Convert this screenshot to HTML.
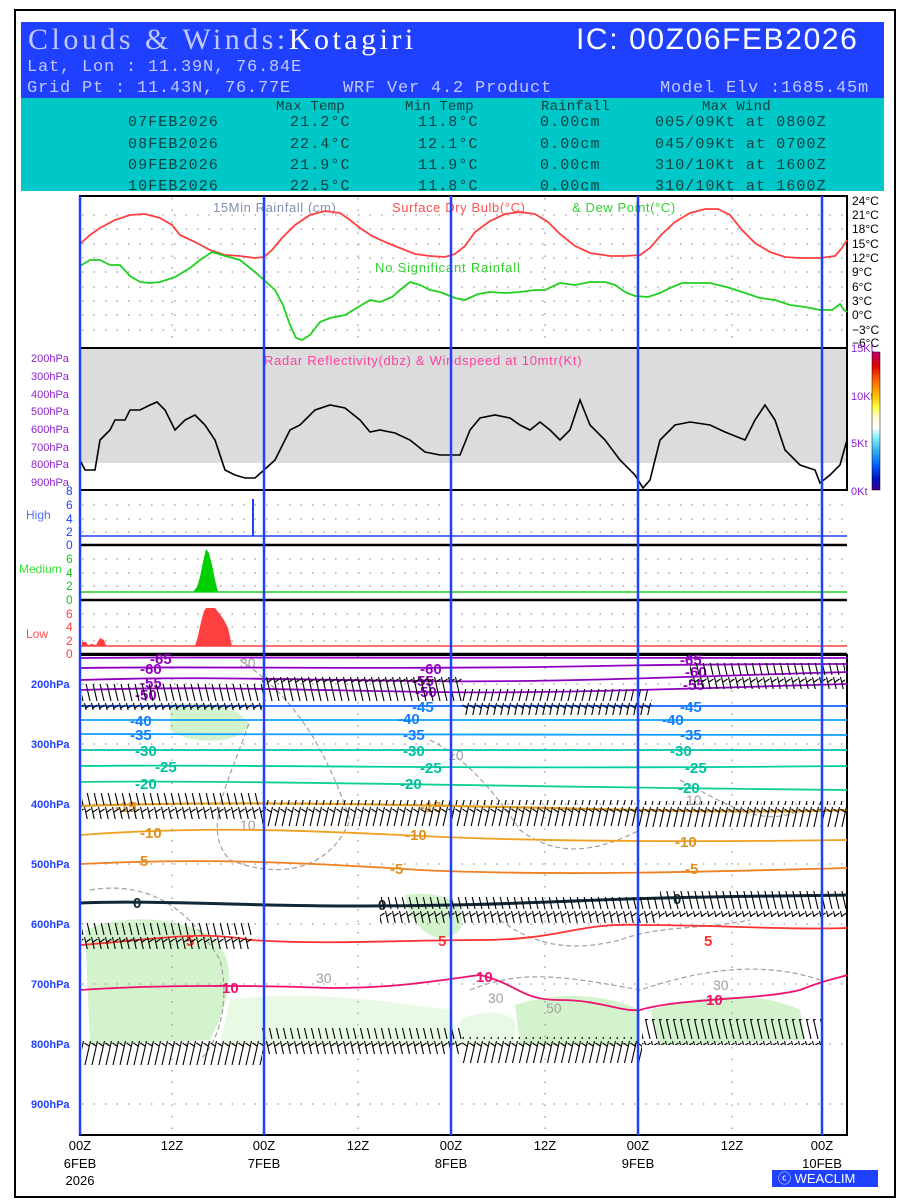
<!DOCTYPE html>
<html><head><meta charset="utf-8"><style>
body{margin:0;background:#fff}
svg{display:block;font-family:"Liberation Sans",sans-serif}
.m{font-family:"Liberation Mono",monospace;white-space:pre}
</style></head><body>
<svg width="900" height="1200" viewBox="0 0 900 1200" xmlns="http://www.w3.org/2000/svg">
<defs>
<pattern id="barb" x="0" y="0" width="7" height="26" patternUnits="userSpaceOnUse">
<path d="M0.5 1 L6 25 M2 6 L6.5 3" stroke="#000" stroke-width="1.1" fill="none"/>
</pattern>
<pattern id="barb2" x="0" y="0" width="7" height="26" patternUnits="userSpaceOnUse">
<path d="M6.5 1 L1 25 M5 6 L0.5 3" stroke="#000" stroke-width="1.1" fill="none"/>
</pattern>
<linearGradient id="cb" x1="0" y1="0" x2="0" y2="1">
<stop offset="0" stop-color="#c0006a"/><stop offset="0.1" stop-color="#e00000"/><stop offset="0.22" stop-color="#ff7000"/><stop offset="0.32" stop-color="#ffc000"/><stop offset="0.4" stop-color="#ffff40"/><stop offset="0.47" stop-color="#fff8d0"/><stop offset="0.55" stop-color="#ffffff"/><stop offset="0.62" stop-color="#80f0ff"/><stop offset="0.72" stop-color="#30b0f0"/><stop offset="0.82" stop-color="#0060ff"/><stop offset="0.92" stop-color="#0010c0"/><stop offset="1" stop-color="#400090"/>
</linearGradient>
</defs>
<rect x="15" y="10" width="880" height="1187" fill="#fff" stroke="#000" stroke-width="2"/>
<!-- header -->
<rect x="21" y="22" width="863" height="76" fill="#2040ff"/>
<text x="28" y="49" font-family="Liberation Serif,serif" font-size="30" letter-spacing="3.5" fill="#c0c8ff">Clouds &amp; Winds:<tspan fill="#fff">Kotagiri</tspan></text>
<text x="576" y="49" font-size="30" letter-spacing="1.6" fill="#fff">IC: 00Z06FEB2026</text>
<g class="m" font-size="17" letter-spacing="0.8" fill="#c0c8ff">
<text x="27" y="71">Lat, Lon : 11.39N, 76.84E</text>
<text x="27" y="92">Grid Pt  : 11.43N, 76.77E</text>
<text x="343" y="92">WRF Ver 4.2 Product</text>
<text x="660" y="92">Model Elv :1685.45m</text>
</g>
<rect x="21" y="98" width="863" height="93" fill="#00c8c8"/>
<g class="m" font-size="15" fill="#104040" letter-spacing="1.1">
<text x="276" y="110" font-size="14" letter-spacing="0.2">Max Temp</text><text x="405" y="110" font-size="14" letter-spacing="0.2">Min Temp</text><text x="541" y="110" font-size="14" letter-spacing="0.2">Rainfall</text><text x="702" y="110" font-size="14" letter-spacing="0.2">Max Wind</text>
<text x="128" y="126">07FEB2026</text><text x="290" y="126">21.2°C</text><text x="418" y="126">11.8°C</text><text x="540" y="126">0.00cm</text><text x="655" y="126">005/09Kt at 0800Z</text>
<text x="128" y="148">08FEB2026</text><text x="290" y="148">22.4°C</text><text x="418" y="148">12.1°C</text><text x="540" y="148">0.00cm</text><text x="655" y="148">045/09Kt at 0700Z</text>
<text x="128" y="169">09FEB2026</text><text x="290" y="169">21.9°C</text><text x="418" y="169">11.9°C</text><text x="540" y="169">0.00cm</text><text x="655" y="169">310/10Kt at 1600Z</text>
<text x="128" y="190">10FEB2026</text><text x="290" y="190">22.5°C</text><text x="418" y="190">11.8°C</text><text x="540" y="190">0.00cm</text><text x="655" y="190">310/10Kt at 1600Z</text>
</g>
<!-- temperature panel -->
<rect x="80" y="196" width="767" height="152" fill="none" stroke="#000" stroke-width="2"/>
<g stroke="#aaa" stroke-width="1.5" stroke-dasharray="1.5 10">
<line x1="82" y1="215" x2="846" y2="215"/><line x1="82" y1="229" x2="846" y2="229"/><line x1="82" y1="244" x2="846" y2="244"/><line x1="82" y1="258" x2="846" y2="258"/><line x1="82" y1="272" x2="846" y2="272"/><line x1="82" y1="287" x2="846" y2="287"/><line x1="82" y1="301" x2="846" y2="301"/><line x1="82" y1="315" x2="846" y2="315"/><line x1="82" y1="330" x2="846" y2="330"/>
</g>
<g font-size="12" fill="#000">
<text x="852" y="205">24°C</text><text x="852" y="219">21°C</text><text x="852" y="233">18°C</text><text x="852" y="248">15°C</text><text x="852" y="262">12°C</text><text x="852" y="276">9°C</text><text x="852" y="291">6°C</text><text x="852" y="305">3°C</text><text x="852" y="319">0°C</text><text x="852" y="334">−3°C</text><text x="852" y="347">−6°C</text>
</g>
<text x="213" y="212" font-size="13" letter-spacing="0.6" fill="#8090b0">15Min Rainfall (cm)</text>
<text x="392" y="212" font-size="13" letter-spacing="0.6" fill="#ff5050">Surface Dry Bulb(°C)</text>
<text x="572" y="212" font-size="13" letter-spacing="0.6" fill="#30d030">&amp; Dew Point(°C)</text>
<text x="375" y="272" font-size="13" letter-spacing="0.8" fill="#30d030">No Significant Rainfall</text>
<polyline fill="none" stroke="#ff4040" stroke-width="1.8" points="80,244 90,235 100,228 115,220 130,215 145,214 160,218 172,225 180,235 195,242 210,250 225,255 240,256 255,258 264,257 272,250 282,238 295,225 310,215 325,211 340,213 350,220 360,228 372,236 385,242 400,248 415,254 430,256 445,257 455,254 465,246 475,232 490,221 505,214 520,212 535,214 548,222 560,234 575,246 590,253 610,256 625,256 640,255 650,248 662,234 675,222 690,213 705,209 718,209 730,215 742,230 755,243 770,252 785,257 800,258 820,258 835,256 842,248 847,240"/>
<polyline fill="none" stroke="#20d020" stroke-width="1.8" points="80,266 90,260 100,260 110,265 120,265 130,276 140,282 150,283 160,282 175,277 190,268 200,260 212,252 225,256 240,260 255,272 264,280 275,290 283,305 290,325 296,338 302,340 310,335 320,322 330,318 345,315 360,306 370,300 380,302 392,297 400,290 410,282 420,285 430,290 440,292 455,298 465,300 478,294 490,292 505,293 520,292 535,290 545,290 560,283 575,285 590,282 605,282 615,285 625,292 635,296 648,297 660,293 670,288 682,283 695,283 710,283 730,288 745,293 760,298 775,300 790,305 805,307 820,310 832,310 840,304 844,310 847,312"/>
<!-- radar panel -->
<rect x="80" y="348" width="767" height="115" fill="#dcdcdc"/>
<rect x="80" y="348" width="767" height="142" fill="none" stroke="#000" stroke-width="2"/>
<g font-size="11" fill="#9020d0">
<text x="31" y="362">200hPa</text><text x="31" y="380">300hPa</text><text x="31" y="398">400hPa</text><text x="31" y="415">500hPa</text><text x="31" y="433">600hPa</text><text x="31" y="451">700hPa</text><text x="31" y="468">800hPa</text><text x="31" y="486">900hPa</text>
<text x="851" y="352">15Kt</text><text x="851" y="400">10Kt</text><text x="851" y="447">5Kt</text><text x="851" y="495">0Kt</text>
</g>
<text x="264" y="365" font-size="13" letter-spacing="0.7" fill="#ff40a0">Radar Reflectivity(dbz) &amp; Windspeed at 10mtr(Kt)</text>
<polyline fill="none" stroke="#000" stroke-width="1.6" points="80,460 85,470 95,470 100,440 110,430 115,420 125,420 130,410 140,410 150,405 157,402 165,410 175,430 185,420 195,415 205,425 215,440 225,470 235,475 245,478 255,478 264,470 275,460 290,430 300,425 315,410 330,405 345,408 360,420 370,432 380,430 395,433 410,440 425,452 440,455 460,455 470,430 480,418 495,415 510,418 520,425 530,430 540,422 550,430 560,440 570,430 580,400 590,425 605,440 620,460 635,475 643,488 650,480 660,440 675,425 690,422 710,425 725,432 745,440 755,420 765,405 775,420 785,450 800,465 815,470 820,483 830,475 840,465 847,440"/>
<rect x="872" y="352" width="8" height="138" fill="url(#cb)" stroke="#000" stroke-width="0.5"/>
<!-- cloud panels -->
<g stroke="#aaa" stroke-width="1.5" stroke-dasharray="1.5 10">
<line x1="82" y1="505" x2="846" y2="505"/><line x1="82" y1="519" x2="846" y2="519"/><line x1="82" y1="532" x2="846" y2="532"/>
<line x1="82" y1="559" x2="846" y2="559"/><line x1="82" y1="573" x2="846" y2="573"/><line x1="82" y1="586" x2="846" y2="586"/>
<line x1="82" y1="614" x2="846" y2="614"/><line x1="82" y1="627" x2="846" y2="627"/><line x1="82" y1="641" x2="846" y2="641"/>
</g>
<line x1="80" y1="536" x2="847" y2="536" stroke="#2040ff" stroke-width="1.5"/>
<line x1="253" y1="499" x2="253" y2="536" stroke="#2040ff" stroke-width="2"/>
<line x1="80" y1="545" x2="847" y2="545" stroke="#000" stroke-width="2.5"/>
<line x1="80" y1="592" x2="847" y2="592" stroke="#20d020" stroke-width="1.5"/>
<polygon fill="#00d000" points="193,592 197,587 200,577 203,562 206,549 209,553 212,565 215,580 218,592"/>
<line x1="80" y1="600" x2="847" y2="600" stroke="#000" stroke-width="2.5"/>
<line x1="80" y1="646" x2="847" y2="646" stroke="#ff4040" stroke-width="1.5"/>
<polygon fill="#ff4040" points="82,646 82,642 86,642 88,645 92,644 96,645 100,638 104,640 106,646"/>
<polygon fill="#ff4040" points="195,646 198,636 201,622 204,611 206,608 215,608 219,613 224,620 228,628 232,646"/>
<line x1="80" y1="654" x2="847" y2="654" stroke="#000" stroke-width="2.5"/>
<g font-size="12">
<text x="26" y="519" fill="#5070ff">High</text>
<text x="19" y="573" fill="#30e030">Medium</text>
<text x="26" y="638" fill="#ff5050">Low</text>
<g fill="#2040ff"><text x="66" y="495">8</text><text x="66" y="509">6</text><text x="66" y="523">4</text><text x="66" y="536">2</text><text x="66" y="549">0</text></g>
<g fill="#20c020"><text x="66" y="563">6</text><text x="66" y="577">4</text><text x="66" y="590">2</text><text x="66" y="604">0</text></g>
<g fill="#ff4040"><text x="66" y="618">6</text><text x="66" y="631">4</text><text x="66" y="645">2</text><text x="66" y="658">0</text></g>
</g>
<!-- bottom panel -->
<g fill="#c8f0c0" opacity="0.8">
<path d="M85,930 C120,915 170,915 210,935 C240,960 230,1000 210,1040 L90,1045 Z"/>
<path d="M170,705 C200,700 240,705 250,725 C240,745 190,745 170,730 Z"/>
<path d="M515,1005 C560,990 610,995 640,1010 L640,1045 L520,1045 Z"/>
<path d="M650,1010 C700,995 760,990 800,1010 L805,1040 L660,1045 Z"/>
<path d="M405,895 C440,890 470,900 460,930 C440,950 410,930 405,895 Z"/>
</g>
<g fill="#e6fae0" opacity="0.9">
<path d="M230,1000 C300,990 380,1000 450,1010 L460,1045 L220,1045 Z"/>
<path d="M460,1020 C480,1010 500,1010 515,1020 L515,1045 L460,1045 Z"/>
</g>
<g fill="none" stroke="#a0a0a0" stroke-width="1.2" stroke-dasharray="5 3">
<path d="M240,660 C300,700 330,760 350,820 C330,870 280,880 230,860 C200,830 230,780 250,720"/>
<path d="M430,740 C470,760 500,800 520,830 C560,860 600,850 640,830"/>
<path d="M500,920 C540,950 580,950 620,940 C660,925 700,930 750,920"/>
<path d="M90,890 C150,880 190,910 220,960 C230,1000 220,1040 200,1060"/>
<path d="M470,990 C520,970 560,975 640,990 C700,970 760,960 820,980"/>
<path d="M680,780 C720,800 760,830 800,810"/>
</g>
<g font-size="14" fill="#a0a0a0"><text x="240" y="668">30</text><text x="240" y="830">10</text><text x="448" y="760">10</text><text x="686" y="805">10</text><text x="316" y="983">30</text><text x="488" y="1003">30</text><text x="713" y="990">30</text><text x="546" y="1013">50</text></g>
<rect x="80" y="655" width="767" height="480" fill="none" stroke="#000" stroke-width="2"/>
<g stroke="#aaa" stroke-width="1.5" stroke-dasharray="1.5 10">
<line x1="82" y1="684" x2="846" y2="684"/><line x1="82" y1="744" x2="846" y2="744"/><line x1="82" y1="804" x2="846" y2="804"/><line x1="82" y1="864" x2="846" y2="864"/><line x1="82" y1="924" x2="846" y2="924"/><line x1="82" y1="984" x2="846" y2="984"/><line x1="82" y1="1044" x2="846" y2="1044"/><line x1="82" y1="1104" x2="846" y2="1104"/>
<line x1="172" y1="656" x2="172" y2="1134"/><line x1="358" y1="656" x2="358" y2="1134"/><line x1="545" y1="656" x2="545" y2="1134"/><line x1="732" y1="656" x2="732" y2="1134"/>
<line x1="172" y1="198" x2="172" y2="346"/><line x1="358" y1="198" x2="358" y2="346"/><line x1="545" y1="198" x2="545" y2="346"/><line x1="732" y1="198" x2="732" y2="346"/>
</g>
<g font-size="11" fill="#2040ff" font-weight="bold">
<text x="31" y="688">200hPa</text><text x="31" y="748">300hPa</text><text x="31" y="808">400hPa</text><text x="31" y="868">500hPa</text><text x="31" y="928">600hPa</text><text x="31" y="988">700hPa</text><text x="31" y="1048">800hPa</text><text x="31" y="1108">900hPa</text>
</g>
<!-- contours -->
<g fill="none" stroke-width="1.8">
<path stroke="#9000c0" d="M80,658 C300,656 500,660 847,658"/>
<path stroke="#9000c0" d="M80,668 C200,666 400,670 600,666 C700,664 800,664 847,664"/>
<path stroke="#9000c0" d="M80,680 C200,676 300,680 420,681 C550,683 700,676 847,672"/>
<path stroke="#9000c0" d="M80,690 C200,686 300,690 430,692 C550,694 700,688 847,684"/>
<path stroke="#1060ff" d="M80,706 C250,704 450,708 847,706"/>
<path stroke="#10a0ff" d="M80,720 C250,718 450,722 847,720"/>
<path stroke="#10a0ff" d="M80,734 C250,733 450,736 847,735"/>
<path stroke="#00c0b0" d="M80,750 C250,748 450,752 847,750"/>
<path stroke="#00d0a0" d="M80,766 C250,764 450,770 847,766"/>
<path stroke="#10d090" d="M80,782 C250,780 450,786 847,790"/>
<path stroke="#e0a020" stroke-width="2.2" d="M80,806 C250,800 450,806 550,808 C700,812 800,812 847,810"/>
<path stroke="#f0a020" d="M80,835 C200,826 300,830 420,836 C550,842 700,842 847,840"/>
<path stroke="#f08020" d="M80,864 C200,858 300,862 420,870 C550,876 700,872 847,868"/>
<path stroke="#102838" stroke-width="3" d="M80,903 C150,900 250,906 350,906 C450,906 500,904 600,900 C700,896 800,896 847,895"/>
<path stroke="#ff3030" d="M80,945 C150,940 200,930 250,940 C330,945 400,940 480,940 C560,940 580,922 640,925 C720,925 780,930 847,928"/>
<path stroke="#f01070" d="M80,990 C150,985 250,985 330,988 C400,988 440,980 480,975 C520,985 520,1000 560,1000 C600,1000 620,1012 640,1010 C680,998 760,1000 800,990 C830,978 840,978 847,975"/>
</g>
<g font-size="15" font-weight="bold">
<g fill="#9000c0"><text x="150" y="664">-65</text><text x="680" y="665">-65</text><text x="140" y="674">-60</text><text x="420" y="674">-60</text><text x="685" y="677">-60</text><text x="140" y="688">-55</text><text x="412" y="686">-55</text><text x="683" y="690">-55</text><text x="135" y="700">-50</text><text x="415" y="697">-50</text></g>
<g fill="#1080ff"><text x="412" y="712">-45</text><text x="680" y="712">-45</text><text x="130" y="726">-40</text><text x="398" y="724">-40</text><text x="662" y="725">-40</text><text x="130" y="740">-35</text><text x="403" y="740">-35</text><text x="680" y="740">-35</text></g>
<g fill="#00c0a0"><text x="135" y="756">-30</text><text x="403" y="756">-30</text><text x="670" y="756">-30</text><text x="155" y="772">-25</text><text x="420" y="773">-25</text><text x="685" y="773">-25</text><text x="135" y="789">-20</text><text x="400" y="789">-20</text><text x="678" y="793">-20</text></g>
<g fill="#e09020"><text x="115" y="812">-15</text><text x="420" y="812">-15</text><text x="140" y="838">-10</text><text x="405" y="840">-10</text><text x="675" y="847">-10</text><text x="135" y="866">-5</text><text x="390" y="874">-5</text><text x="685" y="874">-5</text></g>
<g fill="#102838"><text x="133" y="908">0</text><text x="378" y="910">0</text><text x="673" y="904">0</text></g>
<g fill="#ff3030"><text x="186" y="946">5</text><text x="438" y="946">5</text><text x="704" y="946">5</text></g>
<g fill="#f01070"><text x="222" y="993">10</text><text x="476" y="982">10</text><text x="706" y="1005">10</text></g>
</g>
<!-- wind barbs -->
<g>
<rect x="82" y="684" width="180" height="26" fill="url(#barb)" transform="translate(0,0)"/>
<rect x="262" y="676" width="200" height="26" fill="url(#barb)"/>
<rect x="462" y="689" width="190" height="26" fill="url(#barb2)"/>
<rect x="690" y="663" width="155" height="26" fill="url(#barb)"/>
<rect x="82" y="793" width="180" height="26" fill="url(#barb)"/>
<rect x="262" y="800" width="380" height="26" fill="url(#barb2)"/>
<rect x="642" y="801" width="205" height="26" fill="url(#barb2)"/>
<rect x="82" y="923" width="170" height="26" fill="url(#barb)"/>
<rect x="380" y="897" width="280" height="26" fill="url(#barb)"/>
<rect x="660" y="891" width="187" height="26" fill="url(#barb)"/>
<rect x="82" y="1041" width="180" height="26" fill="url(#barb2)"/>
<rect x="262" y="1028" width="200" height="26" fill="url(#barb)"/>
<rect x="462" y="1037" width="180" height="26" fill="url(#barb2)"/>
<rect x="642" y="1019" width="180" height="26" fill="url(#barb)"/>
</g>
<!-- day lines -->
<g stroke="#2040ff" stroke-width="2.5">
<line x1="80" y1="196" x2="80" y2="1135"/><line x1="264" y1="196" x2="264" y2="1135"/><line x1="451" y1="196" x2="451" y2="1135"/><line x1="638" y1="196" x2="638" y2="1135"/><line x1="822" y1="196" x2="822" y2="1135"/>
</g>
<g font-size="13" text-anchor="middle" fill="#000">
<text x="80" y="1150">00Z</text><text x="172" y="1150">12Z</text><text x="264" y="1150">00Z</text><text x="358" y="1150">12Z</text><text x="451" y="1150">00Z</text><text x="545" y="1150">12Z</text><text x="638" y="1150">00Z</text><text x="732" y="1150">12Z</text><text x="822" y="1150">00Z</text>
<text x="80" y="1168">6FEB</text><text x="264" y="1168">7FEB</text><text x="451" y="1168">8FEB</text><text x="638" y="1168">9FEB</text><text x="822" y="1168">10FEB</text>
<text x="80" y="1185">2026</text>
</g>
<rect x="772" y="1170" width="106" height="17" fill="#2040ff"/>
<text x="778" y="1183" font-size="13" fill="#fff">ⓒ WEACLIM</text>
</svg>
</body></html>
